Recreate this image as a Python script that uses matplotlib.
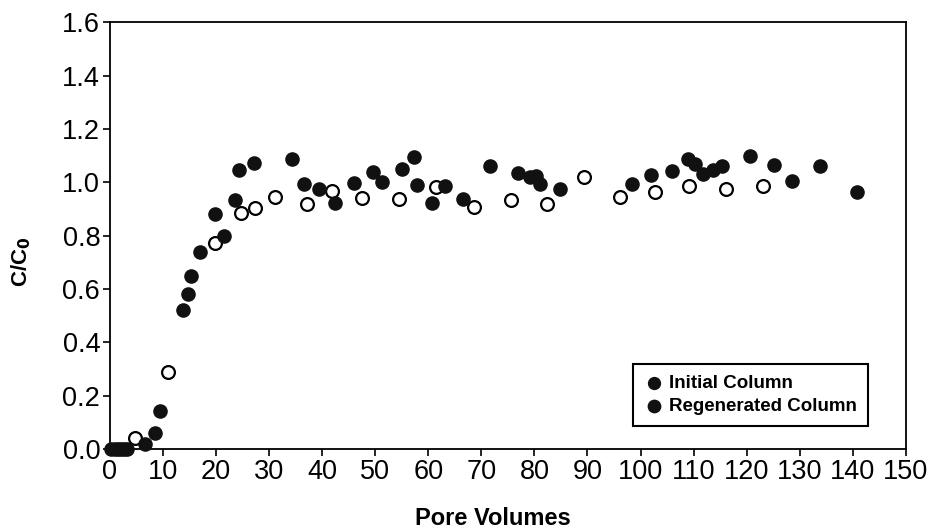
import matplotlib
matplotlib.use("Agg")
import matplotlib.pyplot as plt

plt.rcParams["font.family"] = ["Liberation Sans", "DejaVu Sans"]

# Initial column (filled markers)
initial_pv = [0.3, 0.9, 1.5, 2.1, 2.7, 3.2, 6.6, 8.5, 9.4, 13.7, 14.75, 15.2, 16.95,
              19.8, 21.5, 23.6, 24.3, 27.1, 34.3, 36.5, 39.5, 42.5, 46.1, 49.6, 51.3,
              55.0, 57.3, 57.8, 60.7, 63.1, 66.6, 71.6, 76.9, 79.1, 80.3, 81.0, 84.8,
              98.4, 101.9, 105.9, 108.9, 110.3, 111.8, 113.6, 115.4, 120.7, 125.1,
              128.5, 133.9, 140.7]
initial_cc = [0, 0, 0, 0, 0, 0, 0.02, 0.062, 0.142, 0.521, 0.58, 0.648, 0.739,
              0.883, 0.798, 0.933, 1.045, 1.074, 1.089, 0.995, 0.974, 0.922, 0.998, 1.039, 1.002,
              1.051, 1.095, 0.991, 0.922, 0.986, 0.936, 1.062, 1.035, 1.02, 1.022, 0.995, 0.974,
              0.995, 1.029, 1.042, 1.086, 1.07, 1.03, 1.045, 1.06, 1.097, 1.064,
              1.004, 1.06, 0.964]

# Regenerated column (open markers)
regen_pv = [4.8, 11.05, 19.8, 24.7, 27.4, 31.2, 37.1, 41.9, 47.5, 54.4, 61.4, 68.7,
            75.6, 82.3, 89.3, 96.2, 102.8, 109.2, 116.1, 123.0]
regen_cc = [0.04, 0.29, 0.773, 0.885, 0.904, 0.945, 0.918, 0.966, 0.943, 0.936, 0.982, 0.907,
            0.933, 0.918, 1.02, 0.945, 0.964, 0.985, 0.974, 0.986]

fig = plt.figure(figsize=(9.31, 5.29), dpi=100)
ax = fig.add_axes([0.118, 0.151, 0.855, 0.807])

ax.scatter(regen_pv, regen_cc, s=85, facecolor="white", edgecolor="black",
           linewidth=1.6, label="Regenerated Column", clip_on=False, zorder=3)
ax.scatter(initial_pv, initial_cc, s=90, facecolor="#111111", edgecolor="#111111",
           linewidth=1, label="Initial Column", clip_on=False, zorder=4)

ax.set_xlim(0, 150)
ax.set_ylim(0, 1.6)
ax.set_xticks(range(0, 151, 10))
ax.set_yticks([i * 0.2 for i in range(9)])
ax.set_yticklabels([f"{i * 0.2:.1f}" for i in range(9)])
ax.tick_params(direction="out", length=5, width=1.2, labelsize=19.5, pad=2)

for sp in ax.spines.values():
    sp.set_linewidth(1.3)

ax.set_xlabel("Pore Volumes", fontsize=17, fontweight="bold")
ax.xaxis.set_label_coords(0.481, -0.135)
ax.set_ylabel("C/C$_\\mathbf{0}$", fontsize=16, fontweight="bold")
ax.yaxis.set_label_coords(-0.097, 0.44)

handles, labels = ax.get_legend_handles_labels()
order = [1, 0]
leg = ax.legend([handles[i] for i in order], [labels[i] for i in order],
                loc="lower right", bbox_to_anchor=(0.952, 0.054), borderaxespad=0,
                fancybox=False, edgecolor="black", framealpha=1,
                prop={"weight": "bold", "size": 13.5}, handletextpad=0.3,
                handlelength=1.0, labelspacing=0.3, borderpad=0.6,
                markerscale=0.9)
leg.get_frame().set_linewidth(1.5)
for h in leg.legend_handles:
    h.set_facecolor("#111111")
    h.set_edgecolor("#111111")

plt.savefig("out.png", dpi=100)
